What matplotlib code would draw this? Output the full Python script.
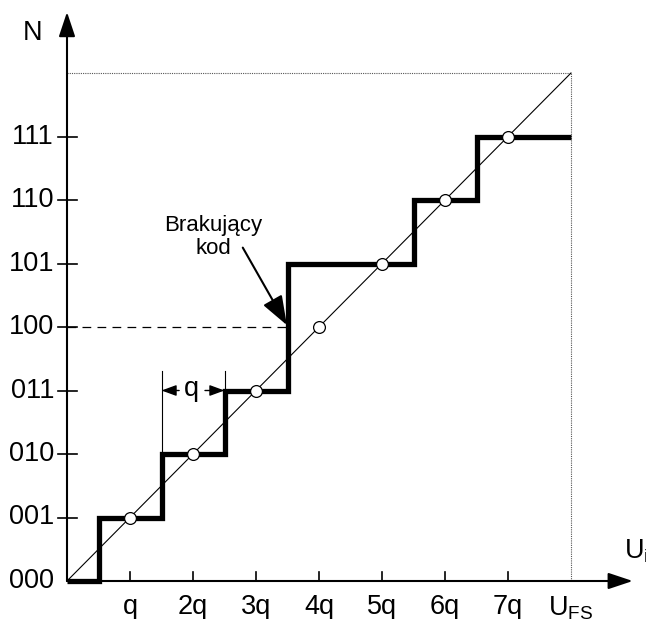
import matplotlib
matplotlib.use("Agg")
import matplotlib.pyplot as plt

plt.rcParams['font.family'] = ['Liberation Sans', 'DejaVu Sans']
plt.rcParams['mathtext.fontset'] = 'custom'
plt.rcParams['mathtext.rm'] = 'Liberation Sans'
plt.rcParams['mathtext.it'] = 'Liberation Sans'

# ---- data ----
x_tick_pos = [1, 2, 3, 4, 5, 6, 7, 8]
x_tick_labels = ['q', '2q', '3q', '4q', '5q', '6q', '7q', r'U$_{\mathrm{FS}}$']
y_tick_pos = [0, 1, 2, 3, 4, 5, 6, 7]
y_tick_labels = ['000', '001', '010', '011', '100', '101', '110', '111']
step_edges = [0, 0.5, 1.5, 2.5, 3.5, 5.5, 6.5, 8.0]
step_codes = [0, 1, 2, 3, 5, 6, 7]
ideal_x = [1, 2, 3, 4, 5, 6, 7]
ideal_y = [1, 2, 3, 4, 5, 6, 7]
full_scale = 8
missing_code = 4
missing_edge = 3.5

# ---- figure: pixel-mapped data coordinates ----
W, H = 646, 619
ox, oy = 67, 581       # origin pixel
qx, qy = 63.0, 63.5    # pixels per step
fig = plt.figure(figsize=(W / 100, H / 100), dpi=100)
ax = fig.add_axes([0, 0, 1, 1])
ax.set_xlim(-ox / qx, (W - ox) / qx)
ax.set_ylim(-(H - oy) / qy, oy / qy)
ax.axis('off')

FS = 19.5

# dotted full-scale frame
ax.plot([0, full_scale], [full_scale, full_scale], ls=(0, (1, 1)), color='#555555', lw=0.8)
ax.plot([full_scale, full_scale], [0, full_scale], ls=(0, (1, 1)), color='#555555', lw=0.8)

# ideal diagonal
ax.plot([0, full_scale], [0, full_scale], color='k', lw=0.8, zorder=3)

# dashed missing code line
ax.plot([0, missing_edge], [missing_code, missing_code], color='k', lw=0.9,
        dashes=(7, 5), zorder=2)

# staircase
ax.stairs(step_codes, step_edges, baseline=None, color='k', lw=3.8, zorder=4)

# circles
ax.plot(ideal_x, ideal_y, 'o', ms=8.5, mfc='white', mec='k', mew=0.9, zorder=5)

# axes with arrows
arrow_style = '-|>,head_length=0.75,head_width=0.25'
ax.annotate('', xy=(0, 8.96), xytext=(0, 0),
            arrowprops=dict(arrowstyle=arrow_style, lw=1.5, color='k',
                            mutation_scale=20, shrinkA=0, shrinkB=0), zorder=6)
ax.annotate('', xy=(8.98, 0), xytext=(0, 0),
            arrowprops=dict(arrowstyle=arrow_style, lw=1.5, color='k',
                            mutation_scale=20, shrinkA=0, shrinkB=0), zorder=6)

# ticks
tx = 9.5 / qx
ty = 9.5 / qy
for yp, lab in zip(y_tick_pos, y_tick_labels):
    if yp > 0:
        ax.plot([-tx, tx], [yp, yp], color='k', lw=1.2)
    ax.text(-13 / qx, yp, lab, ha='right', va='center', fontsize=FS)
for xp, lab in zip(x_tick_pos, x_tick_labels):
    if xp < full_scale:
        ax.plot([xp, xp], [0, ty * 0.95], color='k', lw=1.2)
    ax.text(xp, -13 / qy, lab, ha='center', va='top', fontsize=FS)

# axis labels
ax.text(-34 / qx, 548 / qy, 'N', ha='center', va='center', fontsize=FS)
ax.text((636 - ox) / qx, (oy - 551) / qy, 'U$_{\\mathrm{i}}$', ha='center', va='center',
        fontsize=FS)

# q dimension
ax.plot([1.5, 1.5], [2, 3.3], color='k', lw=0.8)
ax.plot([2.5, 2.5], [3, 3.3], color='k', lw=0.8)
small_arrow = '-|>,head_length=0.6,head_width=0.22'
ax.annotate('', xy=(1.5, 3), xytext=(1.78, 3),
            arrowprops=dict(arrowstyle=small_arrow, lw=1.0, color='k',
                            mutation_scale=15, shrinkA=0, shrinkB=0))
ax.annotate('', xy=(2.5, 3), xytext=(2.19, 3),
            arrowprops=dict(arrowstyle=small_arrow, lw=1.0, color='k',
                            mutation_scale=15, shrinkA=0, shrinkB=0))
ax.text(1.98, 3.02, 'q', ha='center', va='center', fontsize=FS)

# missing code annotation
ax.annotate('', xy=(missing_edge - 0.01, missing_code + 0.03), xytext=(2.79, 5.25),
            arrowprops=dict(arrowstyle='-|>,head_length=0.9,head_width=0.33', lw=1.5,
                            color='k', mutation_scale=20, shrinkA=0, shrinkB=0), zorder=6)
ax.text((213 - ox) / qx, (oy - 237) / qy, 'Brakujący\nkod', ha='center', va='center',
        fontsize=16, linespacing=1.15)

fig.savefig('out.png', dpi=100)
